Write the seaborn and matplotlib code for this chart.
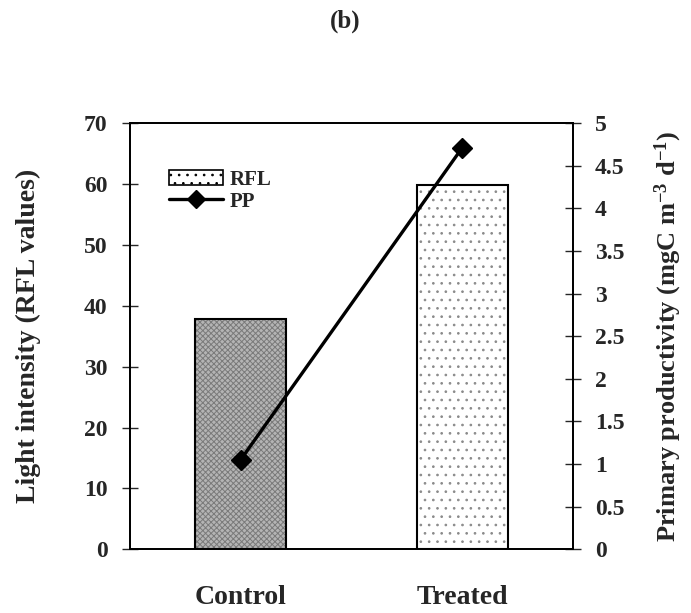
"""Light intensity (RFL) bars with primary productivity line, panel (b)."""

import matplotlib
matplotlib.use('Agg')
import matplotlib.pyplot as plt
from matplotlib.patches import Patch
from matplotlib.lines import Line2D
import seaborn as sns
import pandas as pd

categories = ['Control', 'Treated']
rfl_values = [37.9, 59.9]
pp_values = [1.05, 4.71]

sns.set_style('white')
plt.rcParams['font.family'] = ['Liberation Serif', 'DejaVu Serif']
plt.rcParams['font.weight'] = 'bold'
plt.rcParams['mathtext.fontset'] = 'custom'
plt.rcParams['mathtext.rm'] = 'Liberation Serif:bold'
plt.rcParams['mathtext.default'] = 'rm'
plt.rcParams['hatch.linewidth'] = 0.7

df = pd.DataFrame({'group': categories, 'rfl': rfl_values, 'pp': pp_values})

fig = plt.figure(figsize=(6.91, 6.13), dpi=100)
ax = fig.add_axes([0.188, 0.104, 0.641, 0.695])

sns.barplot(data=df, x='group', y='rfl', ax=ax, width=0.41,
            color='white', edgecolor='black', linewidth=1.5)
bar_faces = ['#b4b4b4', 'white']
bar_hatch = ['xxxxxx', '..']
bar_hatch_col = ['#7a7a7a', '#8a8a8a']
for patch, fc, h, hc in zip(ax.patches, bar_faces, bar_hatch, bar_hatch_col):
    patch.set_facecolor(fc)
    patch.set_hatch(h)
    patch._hatch_color = matplotlib.colors.to_rgba(hc)

ax.set_xlim(-0.5, 1.5)
ax.set_ylim(0, 70)
ax.set_yticks(range(0, 71, 10))
ax.set_xlabel('')
ax.set_ylabel('Light intensity (RFL values)', fontsize=20, fontweight='bold', labelpad=31)

# category boundaries get ticks, labels sit at the centres
ax.set_xticks([-0.5, 0.5, 1.5])
ax.set_xticklabels([])
ax.set_xticks([0, 1], minor=True)
ax.set_xticklabels(categories, minor=True, fontsize=20, fontweight='bold')
ax.tick_params(axis='x', which='major', direction='inout', length=12, width=1)
ax.tick_params(axis='x', which='minor', length=0, pad=26)
ax.tick_params(axis='y', direction='inout', length=12, width=1, labelsize=17, pad=10)
for lab in ax.get_yticklabels():
    lab.set_fontweight('bold')

ax2 = ax.twinx()
ax2.plot([0, 1], pp_values, color='black', linewidth=2.4, marker='D',
         markersize=10, markerfacecolor='black')
ax2.set_ylim(0, 5)
ax2.set_yticks([0, 0.5, 1, 1.5, 2, 2.5, 3, 3.5, 4, 4.5, 5])
ax2.set_yticklabels(['0', '0.5', '1', '1.5', '2', '2.5', '3', '3.5', '4', '4.5', '5'],
                    fontsize=17, fontweight='bold')
ax2.tick_params(axis='y', direction='inout', length=12, width=1, pad=10)
ax2.set_ylabel(r'Primary productivity (mgC m$^{-3}$ d$^{-1}$)',
               fontsize=19, fontweight='bold', labelpad=20)

for a in (ax, ax2):
    for s in a.spines.values():
        s.set_linewidth(1.3)
        s.set_color('black')

handles = [Patch(facecolor='white', edgecolor='black', hatch='..', linewidth=1.2),
           Line2D([0], [0], color='black', linewidth=2.4, marker='D', markersize=9)]
leg = ax.legend(handles, ['RFL', 'PP'], loc='upper left', bbox_to_anchor=(0.055, 0.925),
                frameon=False, fontsize=15, handlelength=2.6, handleheight=0.75,
                labelspacing=0.1, handletextpad=0.3, borderpad=0.2)
for t in leg.get_texts():
    t.set_fontweight('bold')

fig.text(0.5, 0.965, '(b)', ha='center', va='center', fontsize=18, fontweight='bold')

fig.savefig('out.png', dpi=100)
